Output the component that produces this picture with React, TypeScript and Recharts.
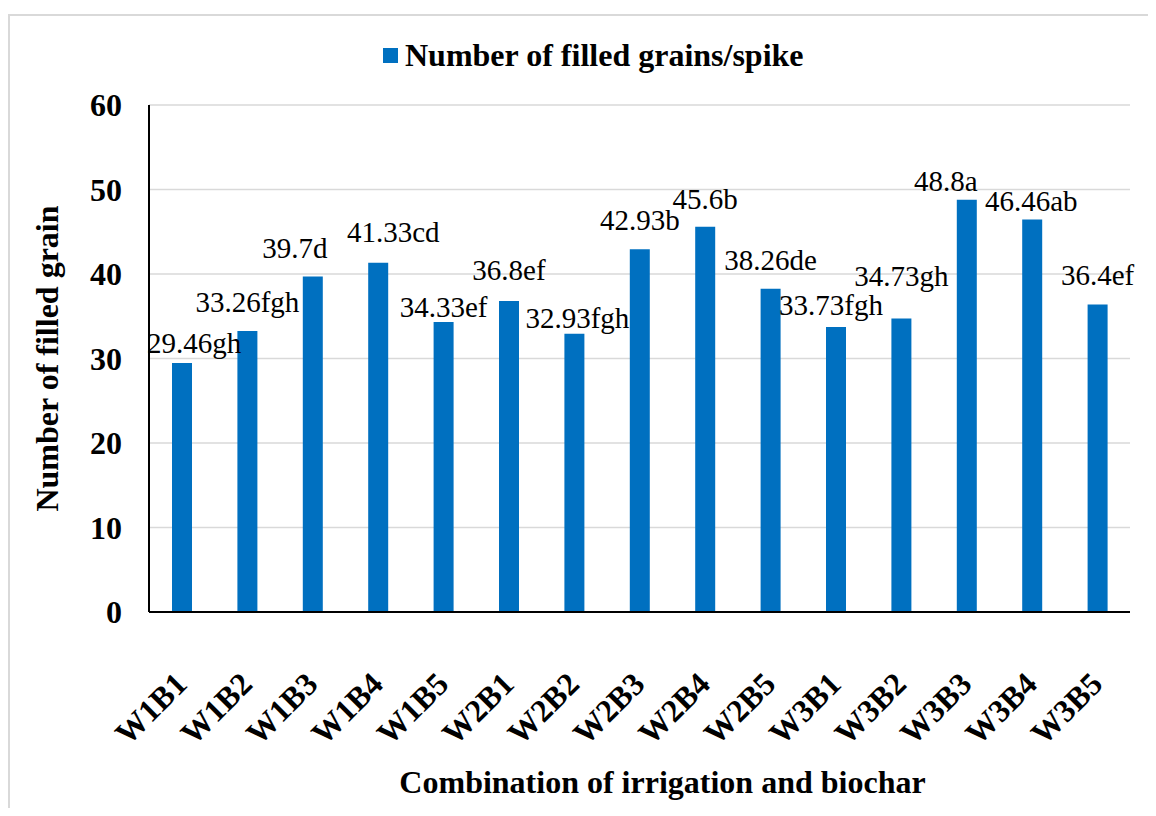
import React from 'react';
import { BarChart, Bar, XAxis, YAxis, CartesianGrid, Legend } from 'recharts';

const treatments = [
  'W1B1', 'W1B2', 'W1B3', 'W1B4', 'W1B5',
  'W2B1', 'W2B2', 'W2B3', 'W2B4', 'W2B5',
  'W3B1', 'W3B2', 'W3B3', 'W3B4', 'W3B5',
];
const filledGrains = [
  29.46, 33.26, 39.7, 41.33, 34.33,
  36.8, 32.93, 42.93, 45.6, 38.26,
  33.73, 34.73, 48.8, 46.46, 36.4,
];
const letters = [
  'gh', 'fgh', 'd', 'cd', 'ef',
  'ef', 'fgh', 'b', 'b', 'de',
  'fgh', 'gh', 'a', 'ab', 'ef',
];
const yTicks = [0, 10, 20, 30, 40, 50, 60];

// hand-placed label nudges as in the original figure: [dx, lift above bar]
const labelNudge: [number, number][] = [
  [12, 10], [0, 19], [-18, 19], [15, 21], [0, 5],
  [0, 21], [3, 6], [0, 19], [0, 18], [0, 19],
  [-5, 12], [0, 33], [-21, 9], [-1, 8], [0, 19],
];

const data = treatments.map((name, i) => ({
  name,
  value: filledGrains[i],
  tag: `${filledGrains[i]}${letters[i]}`,
}));

const SERIF = 'Liberation Serif';
const BLUE = '#0070C0';
const GRID = '#d9d9d9';

const XTick = (props: any) => {
  const { x, y, payload } = props;
  const tx = x + 7;
  const ty = y + 74;
  return (
    <text
      x={tx}
      y={ty}
      transform={`rotate(-45, ${tx}, ${ty})`}
      textAnchor="end"
      fontFamily={SERIF}
      fontWeight="bold"
      fontSize={32}
      fill="#000"
    >
      {payload.value}
    </text>
  );
};

const renderValueLabel = (props: any) => {
  const { x, y, width, index } = props;
  const [dx, lift] = labelNudge[index] || [0, 10];
  return (
    <text
      key={`lbl-${index}`}
      x={x + width / 2 + dx}
      y={y - lift}
      textAnchor="middle"
      fontFamily={SERIF}
      fontSize={29}
      fill="#000"
    >
      {data[index].tag}
    </text>
  );
};

const LegendBox = () => (
  <div style={{ display: 'flex', alignItems: 'center', fontFamily: SERIF, fontWeight: 'bold', fontSize: 32, lineHeight: '32px', color: '#000' }}>
    <span style={{ display: 'inline-block', width: 15, height: 15, background: BLUE, marginRight: 7 }} />
    <span>Number of filled grains/spike</span>
  </div>
);

export default function App() {
  return (
    <div style={{ position: 'relative', width: 1140, height: 800, overflow: 'hidden', background: '#fff' }}>
      <div
        style={{
          position: 'absolute',
          left: 0,
          top: 6,
          width: 1300,
          height: 1000,
          borderLeft: `2.5px solid ${GRID}`,
          borderTop: `2.5px solid ${GRID}`,
        }}
      />
      <BarChart
        width={1140}
        height={800}
        data={data}
        margin={{ top: 97, right: 18, left: 0, bottom: 0 }}
        style={{ position: 'absolute', left: 0, top: 0 }}
      >
        <CartesianGrid vertical={false} stroke={GRID} strokeWidth={1.5} />
        <XAxis
          dataKey="name"
          height={196}
          interval={0}
          tickLine={false}
          tickSize={0}
          tickMargin={0}
          axisLine={{ stroke: '#000', strokeWidth: 2 }}
          tick={<XTick />}
          label={{
            value: 'Combination of irrigation and biochar',
            position: 'insideBottom',
            offset: 10,
            fontFamily: SERIF,
            fontWeight: 'bold',
            fontSize: 32,
            fill: '#000',
            dx: 23,
            dy: -5,
          }}
        />
        <YAxis
          width={141}
          domain={[0, 60]}
          ticks={yTicks}
          interval={0}
          tickLine={false}
          tickSize={0}
          tickMargin={27}
          axisLine={{ stroke: '#000', strokeWidth: 2 }}
          tick={{ fontFamily: SERIF, fontWeight: 'bold', fontSize: 32, fill: '#000' }}
          label={{
            value: 'Number of filled grain',
            angle: -90,
            position: 'insideLeft',
            offset: 39,
            fontFamily: SERIF,
            fontWeight: 'bold',
            fontSize: 32,
            fill: '#000',
            style: { textAnchor: 'middle' },
          }}
        />
        <Legend
          layout="horizontal"
          verticalAlign="middle"
          align="center"
          content={<LegendBox />}
          wrapperStyle={{ top: 31, left: 375, width: 'auto', height: 'auto' }}
        />
        <Bar dataKey="value" fill={BLUE} barSize={20} isAnimationActive={false} label={renderValueLabel} />
      </BarChart>
    </div>
  );
}
